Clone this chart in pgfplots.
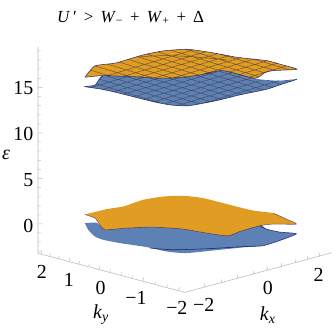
\documentclass[border=0pt]{standalone}
\usepackage{fontspec}
\setmainfont{Liberation Serif}
\usepackage{pgfplots}
\pgfplotsset{compat=1.18}

\definecolor{orangeband}{HTML}{E19C24}
\definecolor{blueband}{HTML}{5E81B5}
\definecolor{boxline}{HTML}{BDBDBD}

\newcommand{\ticktext}{\fontsize{20}{20}\selectfont}

\begin{document}
\begin{tikzpicture}
\begin{axis}[
  scale only axis,
  width=332bp, height=328bp,
  xmin=0, xmax=332,
  ymin=0, ymax=328,
  y dir=reverse,
  hide axis,
  clip=false,
  unbounded coords=jump,
  mesh line/.style={black!80, line width=0.5pt, opacity=0.65},
  edge line/.style={black!70!blue, line width=0.55pt, opacity=0.75, smooth, tension=0.35},
  band/.style={fill=#1, draw=none, smooth, tension=0.35},
]
% box edges and ticks
\addplot[boxline, line width=0.6pt] coordinates {
  (38,47) (38,253.5) (185,292.7) (332,253)
};
\addplot[boxline, line width=0.5pt] coordinates {
  (38,51) (41,51) (nan,nan) (38,60) (41,60) (nan,nan) (38,69) (41,69) (nan,nan) (38,78.5) (41,78.5) (nan,nan)
  (38,87.5) (43,87.5) (nan,nan) (38,96.5) (41,96.5) (nan,nan) (38,105.5) (41,105.5) (nan,nan) (38,115) (41,115) (nan,nan)
  (38,124) (41,124) (nan,nan) (38,133) (43,133) (nan,nan) (38,142) (41,142) (nan,nan) (38,151) (41,151) (nan,nan)
  (38,160.5) (41,160.5) (nan,nan) (38,169.5) (41,169.5) (nan,nan) (38,178.5) (43,178.5) (nan,nan) (38,187.5) (41,187.5) (nan,nan)
  (38,197) (41,197) (nan,nan) (38,206) (41,206) (nan,nan) (38,215) (41,215) (nan,nan) (38,224) (43,224) (nan,nan)
  (38,233) (41,233) (nan,nan) (38,242) (41,242) (nan,nan) (38,251.3) (41,251.3) (nan,nan)
  (41,254.3) (42,250.3) (nan,nan) (50,256.7) (50.5,253.7) (nan,nan) (59,259.1) (59.5,256.1) (nan,nan)
  (69,261.8) (70,257.8) (nan,nan) (79,264.4) (79.5,261.4) (nan,nan) (89,267.1) (89.5,264.1) (nan,nan)
  (99,269.8) (100,265.8) (nan,nan) (110,272.7) (110.5,269.7) (nan,nan) (121,275.6) (121.5,272.6) (nan,nan)
  (132,278.6) (132.5,275.6) (nan,nan) (143,281.5) (144,277.5) (nan,nan) (155,284.7) (155.5,281.7) (nan,nan)
  (167,287.9) (167.5,284.9) (nan,nan) (179,291.1) (180,287.1) (nan,nan)
  (205,287.3) (204,283.3) (nan,nan) (222,282.7) (221.5,279.7) (nan,nan) (238,278.4) (237.5,275.4) (nan,nan)
  (254,274.1) (253.5,271.1) (nan,nan) (268,270.3) (267,266.3) (nan,nan) (282,266.5) (281.5,263.5) (nan,nan)
  (296,262.7) (295.5,259.7) (nan,nan) (308,259.5) (307.5,256.5) (nan,nan) (320,256.3) (319,252.3)
};

% upper pair of bands: blue below, orange on top
\addplot[band=blueband] coordinates {
  (85,86.7) (95,85.3) (99.3,79.3) (103,75.7) (133,76.7) (160,78.3) (183,77.3) (200,75)
  (223,70.7) (255,78.3) (264,80) (280,80.7) (297.3,79.3)
  (280,85) (267,89.3) (240,95) (220,100) (200,104) (187,106) (170,105) (153,101.7)
  (133,96.7) (113,91.7) (100,89) (85,86.7)
};
\addplot[mesh line] coordinates {
  (96,83.8) (160,103) (nan,nan) (99.5,79.3) (188,105.8) (nan,nan) (106,75.8) (200,104) (nan,nan)
  (126.6,76.5) (211,101.8) (nan,nan) (148.5,77.6) (221.8,99.5) (nan,nan) (168.5,78) (231.8,97) (nan,nan)
  (184,77.2) (242,94.6) (nan,nan) (196.6,75.5) (252.8,92.3) (nan,nan) (208,73.4) (263.6,90) (nan,nan)
  (219.5,71.4) (272.7,87.3) (nan,nan) (267,80.1) (281,84.4) (nan,nan) (285.8,80.3) (290,81.5) (nan,nan)
  (91,87.7) (128,76.6) (nan,nan) (103,89.6) (144,77.3) (nan,nan) (113.8,91.9) (159.3,78.2) (nan,nan)
  (123.6,94.4) (179.8,77.5) (nan,nan) (133.6,96.9) (217.7,71.7) (nan,nan) (143.8,99.4) (232.2,72.8) (nan,nan)
  (153.8,101.9) (242.4,75.3) (nan,nan) (165,104) (252.6,77.7) (nan,nan) (178,105.6) (263.6,79.9) (nan,nan)
  (205,103) (279.4,80.7)
};
\addplot[edge line] coordinates {
  (297.3,79.3) (280,85) (267,89.3) (240,95) (220,100) (200,104) (187,106) (170,105)
  (153,101.7) (133,96.7) (113,91.7) (100,89) (85,86.7) (95,85.3) (99.3,79.3) (103,75.7)
};
\addplot[band=orangeband] coordinates {
  (85,77.3) (95,66) (116,63) (143,55) (163,51) (187,49.3) (210,52.3) (237,57.3)
  (267,60.7) (283,65) (297.3,69.3)
  (273,70.7) (265,72.7) (255,78.3) (223,70.7) (200,75) (183,77.3) (160,78.3)
  (133,76.7) (103,75.7) (85,77.3)
};
\addplot[mesh line] coordinates {
  (91,70.3) (110,76) (nan,nan) (95,66) (129,76.2) (nan,nan) (107.4,64.2) (152.5,77.8) (nan,nan)
  (118.8,62.1) (171,77.8) (nan,nan) (128,59.4) (186,76.9) (nan,nan) (137.2,56.7) (199,75.2) (nan,nan)
  (147.2,54.2) (210.3,73.1) (nan,nan) (158.2,52) (221.6,71) (nan,nan) (171.4,50.4) (258.3,76.5) (nan,nan)
  (186.3,49.4) (264.6,72.9) (nan,nan) (221,54.3) (275,70.5) (nan,nan) (254,59.2) (289,69.7) (nan,nan)
  (107,75.8) (193,50) (nan,nan) (123.7,76.4) (205.8,51.8) (nan,nan) (139.8,77) (217.7,53.7) (nan,nan)
  (155,78) (229,55.8) (nan,nan) (174,77.8) (241,57.7) (nan,nan) (204,74.2) (254,59.2) (nan,nan)
  (229.4,72.2) (267.6,60.7) (nan,nan) (239.6,74.6) (277,63.4) (nan,nan) (249.9,77) (286.5,66) (nan,nan)
  (140,56.7) (165,55.5) (193,56.7) (227,60)
};
\addplot[edge line] coordinates {
  (85,77.3) (95,66) (116,63) (143,55) (163,51) (187,49.3) (210,52.3) (237,57.3)
  (267,60.7) (283,65) (297.3,69.3) (273,70.7) (265,72.7) (255,78.3) (223,70.7)
  (200,75) (183,77.3) (160,78.3) (133,76.7) (103,75.7) (85,77.3)
};

% lower pair of bands, no mesh
\addplot[band=blueband] coordinates {
  (85,223.3) (97,223) (105,229) (126.7,227) (153.3,226) (183.3,228) (206.7,232) (228.3,235)
  (240,230.7) (260,225) (266.7,229.3) (280,232.3)
  (296.7,234) (280,240.7) (263.3,246) (246.7,247.3) (220,250) (186.7,253.3)
  (166.7,251.7) (146.7,247.3) (120,243.3) (103.3,240) (95,236.7) (88.3,230) (85,223.3)
};
\addplot[edge line] coordinates {
  (150,248.3) (173.3,250) (206.7,249) (246.7,246.7) (263.3,246) (280,240.7) (296.7,234)
  (280,232.3) (266.7,229.3) (260,226)
};
\addplot[band=orangeband] coordinates {
  (85,214.7) (106.7,209.3) (123.3,206.7) (143.3,200) (163.3,196.7) (183.3,196)
  (203.3,198.3) (230,205) (253.3,210.7) (273.3,213.3) (286.7,219.3) (296.7,224.3)
  (273.3,224.3) (260,226) (240,231.7) (228.3,236) (206.7,233.3) (183.3,229.3)
  (153.3,227.3) (126.7,228.3) (105,230) (100,225) (95,218.3) (85,214.7)
};
\addplot[edge line, opacity=0.5] coordinates {
  (85,214.7) (95,218.3) (100,225) (105,230) (126.7,228.3) (153.3,227.3) (183.3,229.3)
  (206.7,233.3) (228.3,236) (240,231.7) (260,226) (273.3,224.3) (296.7,224.3)
  (286.7,219.3) (273.3,213.3)
};

% labels
\node[anchor=west, inner sep=0pt, font=\fontsize{17}{17}\selectfont] at (axis cs:57,18)
  {\textit{U}\,′\hspace{.42em}>\hspace{.42em}\textit{W}\textsubscript{−}\hspace{.42em}+\hspace{.42em}\textit{W}\textsubscript{+}\hspace{.42em}+\hspace{.42em}Δ};
\node[inner sep=0pt, font=\ticktext\itshape] at (axis cs:6,155) {ε};
\node[anchor=east, inner sep=0pt, font=\ticktext] at (axis cs:33.5,88) {15};
\node[anchor=east, inner sep=0pt, font=\ticktext] at (axis cs:33.5,134) {10};
\node[anchor=east, inner sep=0pt, font=\ticktext] at (axis cs:33.5,180) {5};
\node[anchor=east, inner sep=0pt, font=\ticktext] at (axis cs:33.5,226) {0};
\node[inner sep=0pt, font=\ticktext] at (axis cs:42,272) {2};
\node[inner sep=0pt, font=\ticktext] at (axis cs:69,280) {1};
\node[inner sep=0pt, font=\ticktext] at (axis cs:100.7,288) {0};
\node[inner sep=0pt, font=\ticktext] at (axis cs:136,298) {−1};
\node[inner sep=0pt, font=\ticktext] at (axis cs:177,308) {−2};
\node[inner sep=0pt, font=\ticktext] at (axis cs:204,305) {−2};
\node[inner sep=0pt, font=\ticktext] at (axis cs:268,288) {0};
\node[inner sep=0pt, font=\ticktext] at (axis cs:319,275) {2};
\node[inner sep=0pt, font=\ticktext] at (axis cs:101,315) {\textit{k}\textsubscript{\textit{y}}};
\node[inner sep=0pt, font=\ticktext] at (axis cs:268,315) {\textit{k}\textsubscript{\textit{x}}};
\path[use as bounding box] (axis cs:0,0) rectangle (axis cs:332,328);
\end{axis}
\end{tikzpicture}
\end{document}
